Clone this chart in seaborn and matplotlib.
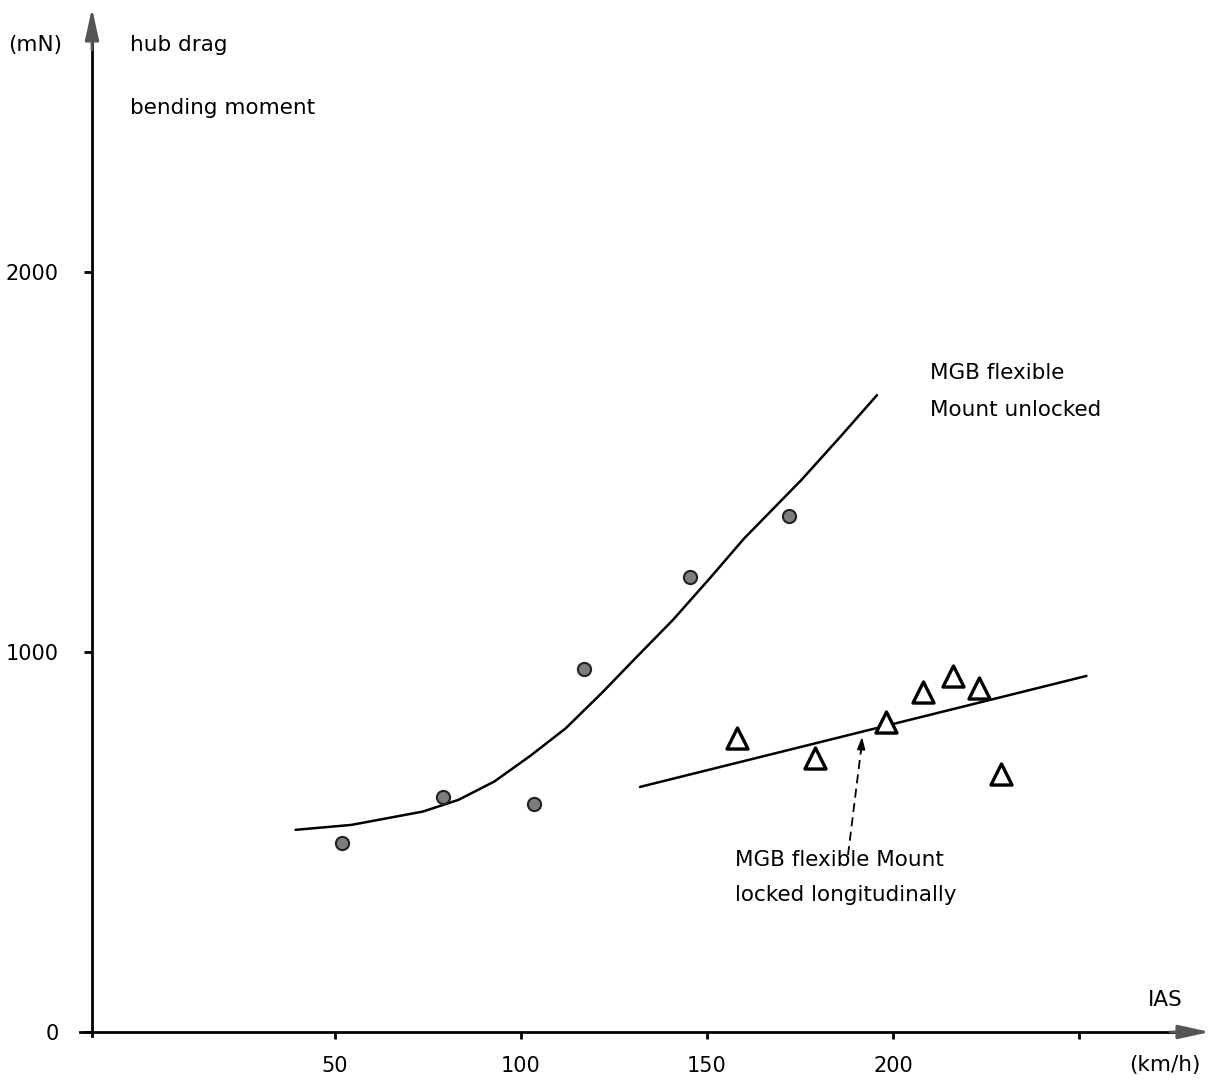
import matplotlib
matplotlib.use("Agg")
import matplotlib.pyplot as plt
import seaborn as sns
import numpy as np

# ---- data ----
unlocked_ias = [52, 79, 103.5, 117, 145.5, 172]
unlocked_moment = [497, 618, 600, 955, 1197, 1358]

locked_ias = [158, 179, 198, 208, 216, 223, 229]
locked_moment = [774, 721, 816, 895, 937, 905, 679]

curve_unlocked_x = [39.4, 54.4, 73.6, 83.2, 92.8, 102.4, 112.0, 121.6, 131.2,
                    140.8, 150.4, 160.0, 175.4, 185.8, 195.7]
curve_unlocked_y = [532, 545, 580, 611, 659, 726, 799, 891, 988,
                    1084, 1190, 1299, 1453, 1566, 1676]

curve_locked_x = [132, 252]
curve_locked_y = [645, 937]

x_ticks = [50, 100, 150, 200, 250]
x_tick_labels = ["50", "100", "150", "200", ""]
y_ticks = [0, 1000, 2000]
y_tick_labels = ["0", "1000", "2000"]

sns.set_theme(style="white")
plt.rcParams['font.family'] = ['DejaVu Sans']
plt.rcParams['text.color'] = 'black'

W, H = 1212, 1081
fig = plt.figure(figsize=(W / 100, H / 100), dpi=100)
ax = fig.add_axes([0, 0, 1, 1])

# pixel mapping: x_data = 50 + (px-335)/3.72 ; y_data = (1032-py)/0.38
def px2x(px):
    return 50 + (px - 335) / 3.72

def py2y(py):
    return (1032 - py) / 0.38

ax.set_xlim(px2x(0), px2x(W))
ax.set_ylim(py2y(H), py2y(0))
ax.set_facecolor("white")

x0 = px2x(92)

# spines as axes through origin
for s in ["top", "right"]:
    ax.spines[s].set_visible(False)
ax.spines["bottom"].set_position(("data", 0))
ax.spines["left"].set_position(("data", x0))
ax.spines["bottom"].set_bounds(px2x(80), px2x(1180))
ax.spines["left"].set_bounds(py2y(1036), py2y(40))
for s in ["bottom", "left"]:
    ax.spines[s].set_color("black")
    ax.spines[s].set_linewidth(2.0)

ax.set_xticks(x_ticks)
ax.set_xticklabels(x_tick_labels)
ax.set_yticks(y_ticks)
ax.set_yticklabels(y_tick_labels)
ax.tick_params(axis="x", direction="out", length=5, width=2, pad=12,
               labelsize=15, colors="black", bottom=True)
ax.tick_params(axis="y", direction="out", length=6, width=2, pad=18,
               labelsize=15, colors="black", left=True)

# arrows at the axis ends
ax.annotate("", xy=(px2x(1210), 0), xytext=(px2x(1170), 0),
            arrowprops=dict(arrowstyle="-|>,head_length=1.6,head_width=0.35",
                            color="#555555", lw=2, shrinkA=0, shrinkB=0))
ax.annotate("", xy=(x0, py2y(8)), xytext=(x0, py2y(50)),
            arrowprops=dict(arrowstyle="-|>,head_length=1.6,head_width=0.35",
                            color="#555555", lw=2, shrinkA=0, shrinkB=0))

# curves
sns.lineplot(x=curve_unlocked_x, y=curve_unlocked_y, ax=ax, color="black",
             linewidth=1.8, estimator=None, sort=True)
sns.lineplot(x=curve_locked_x, y=curve_locked_y, ax=ax, color="black",
             linewidth=1.8, estimator=None, sort=True)

# points
sns.scatterplot(x=unlocked_ias, y=unlocked_moment, ax=ax, marker="o", s=90,
                color="#7d7d7d", edgecolor="#222222", linewidth=1.5, zorder=5)
sns.scatterplot(x=locked_ias, y=locked_moment, ax=ax, marker="^", s=230,
                facecolor="white", edgecolor="black", linewidth=2.4, zorder=5)

# dashed pointer
tail = (px2x(848), py2y(855))
tip = (px2x(862), py2y(737))
ax.plot([tail[0], px2x(861)], [tail[1], py2y(750)], color="black",
        linestyle=(0, (5, 3)), linewidth=1.3)
ax.annotate("", xy=tip, xytext=(px2x(861), py2y(752)),
            arrowprops=dict(arrowstyle="-|>,head_length=0.6,head_width=0.2",
                            color="black", lw=1.2, shrinkA=0, shrinkB=0))

# texts
fs = 15.5
tc = "black"
ax.text(px2x(930), py2y(373), "MGB flexible", fontsize=fs, va="center", ha="left", color=tc)
ax.text(px2x(930), py2y(410), "Mount unlocked", fontsize=fs, va="center", ha="left", color=tc)
ax.text(px2x(735), py2y(860), "MGB flexible Mount", fontsize=fs, va="center", ha="left", color=tc)
ax.text(px2x(735), py2y(895), "locked longitudinally", fontsize=fs, va="center", ha="left", color=tc)
ax.text(px2x(8), py2y(45), "(mN)", fontsize=fs, va="center", ha="left", color=tc)
ax.text(px2x(130), py2y(45), "hub drag", fontsize=fs, va="center", ha="left", color=tc)
ax.text(px2x(130), py2y(108), "bending moment", fontsize=fs, va="center", ha="left", color=tc)
ax.text(px2x(1165), py2y(1000), "IAS", fontsize=fs, va="center", ha="center", color=tc)
ax.text(px2x(1165), py2y(1065), "(km/h)", fontsize=fs, va="center", ha="center", color=tc)

fig.savefig("out.png", dpi=100)
